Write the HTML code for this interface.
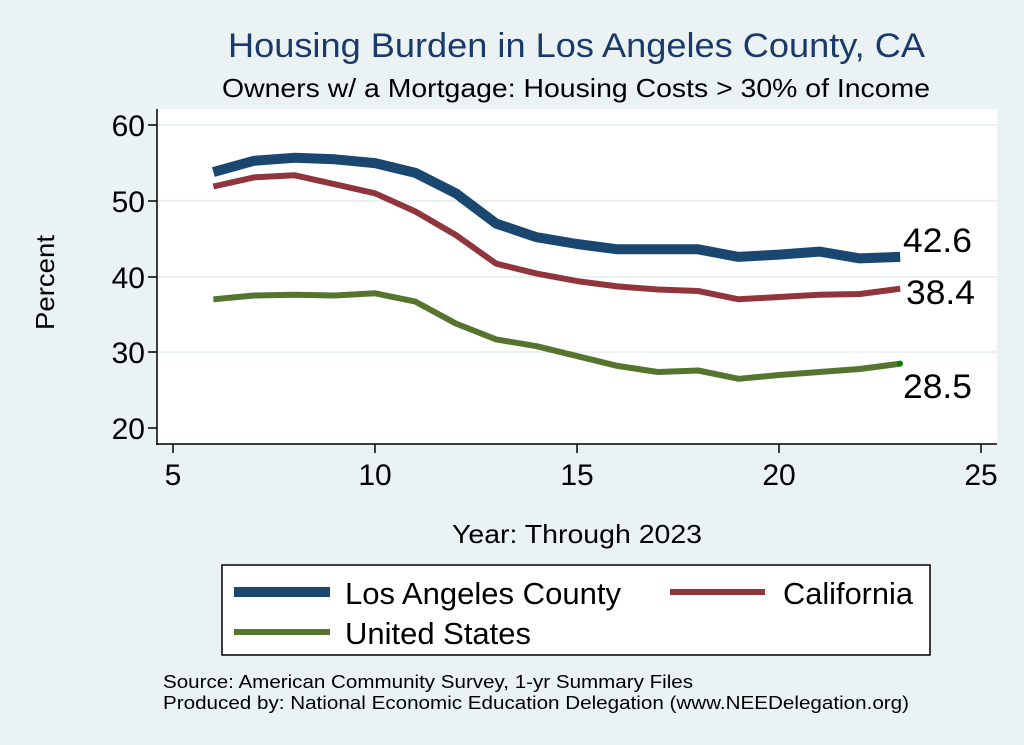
<!DOCTYPE html>
<html><head><meta charset="utf-8"><style>
html,body{margin:0;padding:0;background:#eaf2f3;}
svg{display:block;font-family:"Liberation Sans",Arial,sans-serif;}
</style></head><body>
<svg id="s" width="1024" height="745" viewBox="0 0 1024 745" xmlns="http://www.w3.org/2000/svg">
<rect width="1024" height="745" fill="#eaf2f3"/>
<rect x="157" y="109" width="840" height="335" fill="#ffffff"/>
<g stroke="#eaf2f3" stroke-width="2">
<line x1="158" x2="997" y1="125" y2="125"/><line x1="158" x2="997" y1="201" y2="201"/>
<line x1="158" x2="997" y1="277" y2="277"/><line x1="158" x2="997" y1="352" y2="352"/>
</g>
<g stroke="#000" stroke-width="1.5">
<line x1="157" y1="109" x2="157" y2="445"/><line x1="156" y1="444" x2="997" y2="444"/>
<line x1="148" x2="157" y1="125" y2="125"/><line x1="148" x2="157" y1="201" y2="201"/>
<line x1="148" x2="157" y1="277" y2="277"/><line x1="148" x2="157" y1="352" y2="352"/>
<line x1="148" x2="157" y1="428" y2="428"/>
<line x1="173" x2="173" y1="444" y2="453"/><line x1="375" x2="375" y1="444" y2="453"/>
<line x1="577" x2="577" y1="444" y2="453"/><line x1="779" x2="779" y1="444" y2="453"/>
<line x1="981" x2="981" y1="444" y2="453"/>
</g>
<g font-size="30" fill="#000" text-anchor="end">
<text x="145" y="136">60</text><text x="145" y="212">50</text><text x="145" y="288">40</text>
<text x="145" y="363">30</text><text x="145" y="439">20</text>
</g>
<g font-size="30" fill="#000" text-anchor="middle">
<text x="173" y="485">5</text><text x="375" y="485">10</text><text x="577" y="485">15</text>
<text x="779" y="485">20</text><text x="981" y="485">25</text>
</g>
<text x="452" y="543" font-size="26" textLength="250" lengthAdjust="spacingAndGlyphs">Year: Through 2023</text>
<text transform="translate(54,330) rotate(-90)" font-size="26" textLength="95" lengthAdjust="spacingAndGlyphs">Percent</text>
<text x="228" y="57" font-size="34" fill="#1a3a6a" textLength="697" lengthAdjust="spacingAndGlyphs">Housing Burden in Los Angeles County, CA</text>
<text x="222" y="97" font-size="26" textLength="708" lengthAdjust="spacingAndGlyphs">Owners w/ a Mortgage: Housing Costs &gt; 30% of Income</text>
<g id="lines" fill="none" stroke-linejoin="round"></g>
<circle cx="900" cy="363.6" r="3" fill="#008000"/>
<g font-size="34" fill="#000">
<text x="903" y="252" textLength="69" lengthAdjust="spacingAndGlyphs">42.6</text><text x="906" y="304" textLength="69" lengthAdjust="spacingAndGlyphs">38.4</text><text x="903" y="398" textLength="69" lengthAdjust="spacingAndGlyphs">28.5</text>
</g>
<rect x="222" y="565" width="708" height="90" fill="#fff" stroke="#000" stroke-width="1.5"/>
<line x1="234" x2="330" y1="592" y2="592" stroke="#1a476f" stroke-width="10"/>
<line x1="670" x2="765" y1="592" y2="592" stroke="#90353b" stroke-width="6"/>
<line x1="234" x2="330" y1="632" y2="632" stroke="#55752f" stroke-width="6"/>
<g font-size="31" fill="#000">
<text x="345" y="604" textLength="276" lengthAdjust="spacingAndGlyphs">Los Angeles County</text><text x="783" y="604" textLength="130" lengthAdjust="spacingAndGlyphs">California</text>
<text x="345" y="644" textLength="186" lengthAdjust="spacingAndGlyphs">United States</text>
</g>
<g font-size="18" fill="#000">
<text x="163" y="688" textLength="530" lengthAdjust="spacingAndGlyphs">Source: American Community Survey, 1-yr Summary Files</text>
<text x="163" y="709" textLength="746" lengthAdjust="spacingAndGlyphs">Produced by: National Economic Education Delegation (www.NEEDelegation.org)</text>
</g>
</svg>
<script>
var X=function(v){return 173+(v-5)*40.4},Y=function(v){return 428-(v-20)*7.57};
var d=[["#1a476f",10,[53.8,55.3,55.7,55.5,55.0,53.7,51.0,47.0,45.2,44.3,43.6,43.6,43.6,42.6,42.9,43.3,42.4,42.6]],
["#90353b",6,[51.9,53.1,53.4,52.2,51.0,48.6,45.5,41.7,40.4,39.4,38.7,38.3,38.1,37.0,37.3,37.6,37.7,38.4]],
["#55752f",6,[37.0,37.5,37.6,37.5,37.8,36.7,33.8,31.7,30.8,29.5,28.2,27.4,27.6,26.5,27.0,27.4,27.8,28.5]]];
var g=document.getElementById("lines");
d.forEach(function(s){var p=s[2].map(function(v,i){return X(6+i).toFixed(1)+","+Y(v).toFixed(1)}).join(" ");
var e=document.createElementNS("http://www.w3.org/2000/svg","polyline");e.setAttribute("points",p);
e.setAttribute("stroke",s[0]);e.setAttribute("stroke-width",s[1]);g.appendChild(e);});
</script>
</body></html>
